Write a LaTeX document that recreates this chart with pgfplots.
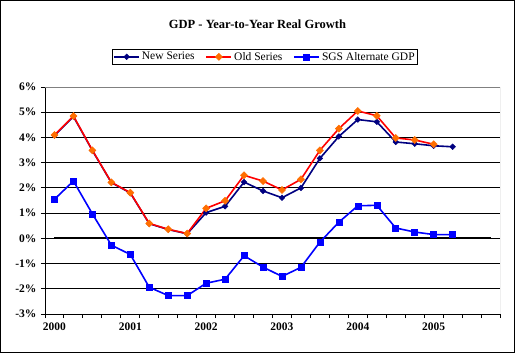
\documentclass[border=0pt]{standalone}
\usepackage{pgfplots}
\pgfplotsset{compat=1.18}
\usepackage{fontspec}
\setmainfont{Liberation Serif}
\definecolor{navyc}{RGB}{0,0,128}
\definecolor{orangec}{RGB}{255,110,0}
\definecolor{bluec}{RGB}{0,0,255}
\begin{document}
\begin{tikzpicture}[x=1bp,y=1bp]
\useasboundingbox (0,0) rectangle (515,353);
\draw[black, line width=1bp] (0.5,0.5) rectangle (514.5,352.5);
\node[font=\fontsize{12.5bp}{15bp}\selectfont\bfseries] at (257.5,329) {GDP - Year-to-Year Real Growth};
\begin{axis}[
 at={(45bp,39bp)}, anchor=south west,
 scale only axis, width=455bp, height=227bp,
 xmin=-0.5, xmax=23.5, ymin=-3, ymax=6,
 axis x line*=bottom, axis y line*=left,
 axis line style={black, line width=1bp, -},
 tick align=outside, major tick length=4bp,
 tick style={black, line width=1bp},
 xtick={-0.5,0.5,...,23.5}, xticklabels={},
 extra x ticks={0,4,8,12,16,20},
 extra x tick labels={2000,2001,2002,2003,2004,2005},
 extra x tick style={major tick length=0pt},
 ytick={-3,-2,...,6},
 yticklabels={-3\%,-2\%,-1\%,0\%,1\%,2\%,3\%,4\%,5\%,6\%},
 ymajorgrids, grid style={black, line width=1bp},
 ticklabel style={font=\fontsize{11.5bp}{13bp}\selectfont\bfseries},
 xticklabel style={yshift=-5.5bp},
 yticklabel style={xshift=-1bp},
 legend style={at={(0.4835,1.133)}, anchor=center, legend columns=3,
   draw=black, line width=1bp, inner sep=1bp,
   font=\fontsize{11.5bp}{13bp}\selectfont,
   /tikz/every even column/.append style={column sep=9bp}},
 legend cell align=left,
 legend image code/.code={\draw[mark repeat=2, mark phase=2] plot coordinates {(0bp,0bp) (12.5bp,0bp) (25bp,0bp)};},
]
\addplot[black, line width=2bp, forget plot] coordinates {(0,0) (23,0)};
\addplot[navyc, line width=1.6bp, mark=square*, mark size=2bp, mark options={rotate=45, fill=navyc, draw=navyc, line width=0.5bp}] coordinates {
(0,4.08) (1,4.83) (2,3.48) (3,2.21) (4,1.80) (5,0.58) (6,0.35) (7,0.18)
(8,1.02) (9,1.27) (10,2.23) (11,1.88) (12,1.61) (13,2.00) (14,3.17) (15,4.04)
(16,4.71) (17,4.62) (18,3.82) (19,3.75) (20,3.67) (21,3.63)};
\addlegendentry{New Series}
\addplot[red, line width=1.6bp, mark=square*, mark size=2.5bp, mark options={rotate=45, fill=orangec, draw=orangec, line width=0.5bp}] coordinates {
(0,4.10) (1,4.85) (2,3.49) (3,2.22) (4,1.81) (5,0.59) (6,0.36) (7,0.19)
(8,1.19) (9,1.49) (10,2.50) (11,2.27) (12,1.92) (13,2.34) (14,3.49) (15,4.35)
(16,5.05) (17,4.86) (18,3.98) (19,3.90) (20,3.73)};
\addlegendentry{Old Series}
\addplot[bluec, line width=1.6bp, mark=square*, mark size=3bp, mark options={fill=bluec, draw=bluec, line width=0.5bp}] coordinates {
(0,1.55) (1,2.27) (2,0.97) (3,-0.27) (4,-0.64) (5,-1.94) (6,-2.27) (7,-2.27)
(8,-1.78) (9,-1.62) (10,-0.69) (11,-1.14) (12,-1.51) (13,-1.15) (14,-0.15) (15,0.64)
(16,1.29) (17,1.31) (18,0.41) (19,0.25) (20,0.15) (21,0.15)};
\addlegendentry{SGS Alternate GDP}
\draw[gray, line width=1bp] (rel axis cs:0,1) -- (rel axis cs:1,1) -- (rel axis cs:1,0);
\end{axis}
\end{tikzpicture}
\end{document}
